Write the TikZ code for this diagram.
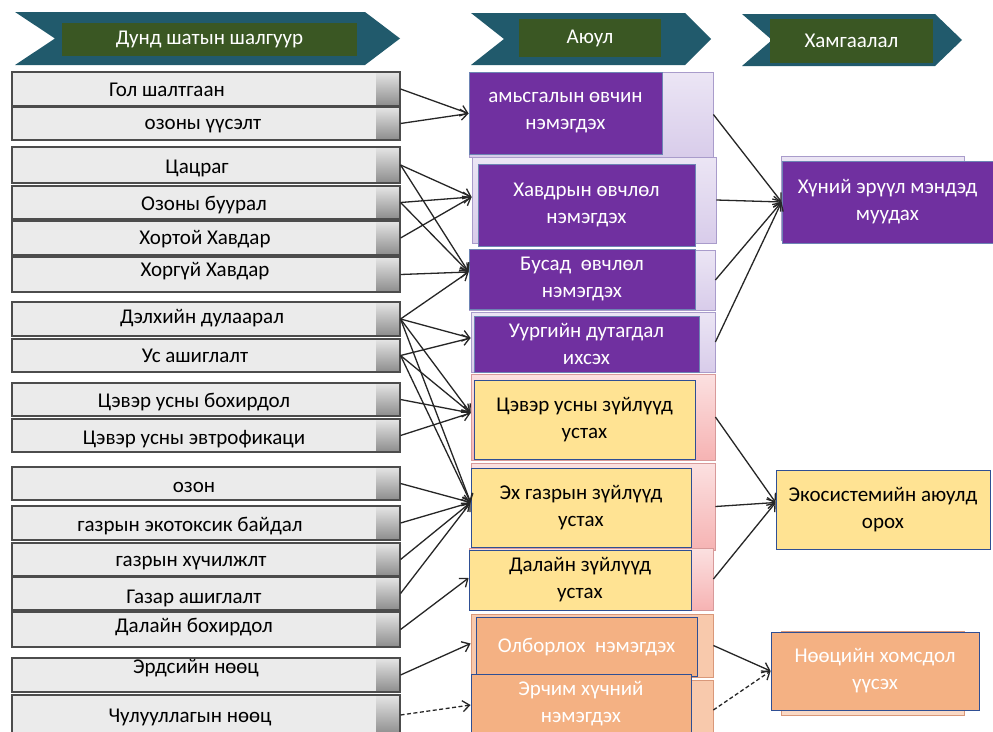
\documentclass[tikz,border=0pt]{standalone}
\usepackage{fontspec}
\setmainfont{Carlito}
\usetikzlibrary{arrows.meta,calc}
\definecolor{hteal}{HTML}{215A6C}
\definecolor{hgreen}{HTML}{3A5723}
\definecolor{purp}{HTML}{7030A0}
\definecolor{lav}{HTML}{D8CCEA}
\definecolor{lavd}{HTML}{A99CCB}
\definecolor{ylw}{HTML}{FFE393}
\definecolor{pnk}{HTML}{F6B3B3}
\definecolor{pnkd}{HTML}{D89A9A}
\definecolor{org}{HTML}{F4B183}
\definecolor{orgl}{HTML}{F8C9AC}
\definecolor{orgd}{HTML}{D9987A}
\definecolor{bdr}{HTML}{2F4F94}
\tikzset{
  txt/.style={font=\fontsize{21}{27}\selectfont, inner sep=0pt, align=center},
  hdrtxt/.style={txt, text=white},
  lbox/.style={draw=black!70, line width=1.1pt, fill=black!8, minimum width=388pt, inner sep=0pt,
    path picture={\shade[top color=black!10, bottom color=black!45]
      ([xshift=-24pt]path picture bounding box.north east) rectangle (path picture bounding box.south east);}},
  pouter/.style={draw=lavd, line width=0.8pt, top color=lav!50, bottom color=lav, inner sep=0pt},
  youter/.style={draw=pnkd, line width=0.8pt, top color=pnk!40, bottom color=pnk, inner sep=0pt},
  oouter/.style={draw=orgd, line width=0.8pt, fill=orgl, inner sep=0pt},
  pinner/.style={txt, fill=purp, draw=bdr!70, line width=0.8pt, text=white},
  yinner/.style={txt, fill=ylw, draw=bdr, line width=0.8pt, text=black},
  oinner/.style={txt, fill=org, draw=bdr, line width=0.8pt, text=white},
  arr/.style={draw=black!85, line width=1.3pt, -{Straight Barb[length=7pt,width=11pt,line width=1.3pt]}},
  darr/.style={arr, dashed, dash pattern=on 4pt off 2.5pt}
}
\begin{document}
\begin{tikzpicture}[x=1pt,y=-1pt]
\useasboundingbox (0,0) rectangle (993,731);
\clip (0,0) rectangle (993,731);
\fill[white] (0,0) rectangle (993,731);

% headers
\fill[hteal] (15,12) -- (365,12) -- (400,38.5) -- (365,65) -- (15,65) -- (55,38.5) -- cycle;
\node[fill=hgreen, minimum width=295pt, minimum height=33pt, inner sep=0pt] (h1) at (209.5,39.5) {};
\node[hdrtxt] (h1t) at (h1) {Дунд шатын шалгуур};
\fill[hteal] (471,13) -- (685,13) -- (711,39) -- (685,65) -- (471,65) -- (504,39) -- cycle;
\node[fill=hgreen, minimum width=142pt, minimum height=38pt, inner sep=0pt] (h2) at (590,38) {};
\node[hdrtxt] (h2t) at (h2) {Аюул};
\fill[hteal] (742,14) -- (935,14) -- (962,40) -- (935,66) -- (742,66) -- (772,40) -- cycle;
\node[fill=hgreen, minimum width=163pt, minimum height=44pt, inner sep=0pt] (h3) at (851.5,41) {};
\node[hdrtxt] (h3t) at (h3) {Хамгаалал};

% left boxes
\node[lbox, minimum height=34pt] (l1) at (206,89) {};
\node[lbox, minimum height=33pt] (l2) at (206,123.5) {};
\node[lbox, minimum height=36pt] (l3) at (206,165) {};
\node[lbox, minimum height=33pt] (l4) at (206,202.5) {};
\node[lbox, minimum height=34pt] (l5) at (206,238) {};
\node[lbox, minimum height=35pt] (l6) at (206,274.5) {};
\node[lbox, minimum height=34pt] (l7) at (206,319) {};
\node[lbox, minimum height=33pt] (l8) at (206,355.5) {};
\node[lbox, minimum height=33pt] (l9) at (206,399.5) {};
\node[lbox, minimum height=33pt] (l10) at (206,435.5) {};
\node[lbox, minimum height=33pt] (l11) at (206,483.5) {};
\node[lbox, minimum height=34pt] (l12) at (206,523) {};
\node[lbox, minimum height=33pt] (l13) at (206,559.5) {};
\node[lbox, minimum height=33pt] (l14) at (206,593.5) {};
\node[lbox, minimum height=35pt] (l15) at (206,629.5) {};
\node[lbox, minimum height=34pt] (l16) at (206,675) {};
\node[lbox, minimum height=40pt] (l17) at (206,715) {};

\node[txt] (l1t) at (167,90) {Гол шалтгаан};
\node[txt] (l2t) at (203,126) {озоны үүсэлт};
\node[txt] (l3t) at (197,168) {Цацраг};
\node[txt] (l4t) at (204,205) {Озоны буурал};
\node[txt] (l5t) at (205,239) {Хортой Хавдар};
\node[txt] (l6t) at (205,271) {Хоргүй Хавдар};
\node[txt] (l7t) at (202,318) {Дэлхийн дулаарал};
\node[txt] (l8t) at (195,356) {Ус ашиглалт};
\node[txt] (l9t) at (194,402) {Цэвэр усны бохирдол};
\node[txt] (l10t) at (194,439) {Цэвэр усны эвтрофикаци};
\node[txt] (l11t) at (194,487) {озон};
\node[txt] (l12t) at (190,526) {газрын экотоксик байдал};
\node[txt] (l13t) at (191,563) {газрын хүчилжлт};
\node[txt] (l14t) at (194,598) {Газар ашиглалт};
\node[txt] (l15t) at (194,627) {Далайн бохирдол};
\node[txt] (l16t) at (196,668) {Эрдсийн нөөц};
\node[txt] (l17t) at (190,717) {Чулууллагын нөөц};

% middle column outer boxes
\node[pouter, minimum width=244pt, minimum height=85pt] (m1o) at (591,114.5) {};
\node[pouter, minimum width=244pt, minimum height=86pt] (m2o) at (594,200) {};
\node[pouter, minimum width=246pt, minimum height=60pt] (m3o) at (592,280) {};
\node[pouter, minimum width=244pt, minimum height=60pt] (m4o) at (593,342) {};
\node[youter, minimum width=244pt, minimum height=86pt] (m5o) at (593,417) {};
\node[youter, minimum width=244pt, minimum height=87pt] (m6o) at (593,506.5) {};
\node[youter, minimum width=244pt, minimum height=62pt] (m7o) at (591,579) {};
\node[oouter, minimum width=242pt, minimum height=63pt] (m8o) at (592,645.5) {};
\node[oouter, minimum width=242pt, minimum height=60pt] (m9o) at (592,710) {};

% middle column inner boxes
\node[pinner, minimum width=193pt, minimum height=82pt] (m1) at (565.5,113) {амьсгалын өвчин\\нэмэгдэх};
\node[pinner, minimum width=217pt, minimum height=82pt] (m2) at (586.5,205) {Хавдрын өвчлөл\\нэмэгдэх};
\node[pinner, minimum width=226pt, minimum height=60pt] (m3) at (582,279) {Бусад\ \ өвчлөл\\нэмэгдэх};
\node[pinner, minimum width=225pt, minimum height=56pt] (m4) at (586.5,344) {Уургийн дутагдал\\ихсэх};
\node[yinner, minimum width=221pt, minimum height=79pt] (m5) at (584.5,419.5) {Цэвэр усны зүйлүүд\\устах};
\node[yinner, minimum width=220pt, minimum height=79pt] (m6) at (581,507.5) {Эх газрын зүйлүүд\\устах};
\node[yinner, minimum width=222pt, minimum height=60pt] (m7) at (580,580) {Далайн зүйлүүд\\устах};
\node[oinner, minimum width=221pt, minimum height=59pt] (m8) at (586.5,647) {Олборлох\ \ нэмэгдэх};
\node[oinner, minimum width=220pt, minimum height=60pt] (m9) at (581,704) {Эрчим хүчний\\нэмэгдэх};

% right column
\node[pouter, minimum width=183pt, minimum height=84pt] (r1o) at (872.5,198) {};
\node[pinner, minimum width=211pt, minimum height=82pt] (r1) at (887.5,202) {Хүний эрүүл мэндэд\\муудах};
\node[yinner, minimum width=214pt, minimum height=79pt] (r2) at (883,509.5) {Экосистемийн аюулд\\орох};
\node[oouter, fill=orgl!70, minimum width=183pt, minimum height=84pt] (r3o) at (872.5,673) {};
\node[oinner, minimum width=208pt, minimum height=78pt] (r3) at (875,671) {Нөөцийн хомсдол\\үүсэх};

% arrow tips
\coordinate (t1) at ($(m1o.west)+(0,-1)$);
\coordinate (t2) at ($(m2o.west)+(0,-3)$);
\coordinate (t3) at ($(m3o.west)+(0,-8)$);
\coordinate (t4) at ($(m4o.west)+(0,-4)$);
\coordinate (t5) at ($(m5o.west)+(0,-4)$);
\coordinate (t6) at ($(m6o.west)+(0,-4)$);
\coordinate (t7) at ($(m7o.west)+(0,-1)$);
\coordinate (t8) at ($(m8o.west)+(0,-2)$);
\coordinate (t9) at ($(m9o.west)+(0,-5)$);
\coordinate (tr2) at ($(r2.west)+(0,-7)$);

% left to middle connectors
\draw[arr] (l1.east) -- (t1);
\draw[arr] (l2.east) -- (t1);
\draw[arr] (l3.east) -- (t2);
\draw[arr] (l3.east) -- (t3);
\draw[arr] (l4.east) -- (t2);
\draw[arr] (l4.east) -- (t3);
\draw[arr] (l5.east) -- (t2);
\draw[arr] (l6.east) -- (t3);
\draw[arr] (l7.east) -- (t3);
\draw[arr] (l7.east) -- (t4);
\draw[arr] (l7.east) -- (t5);
\draw[arr] (l7.east) -- (t6);
\draw[arr] (l8.east) -- (t4);
\draw[arr] (l8.east) -- (t5);
\draw[arr] (l8.east) -- (t6);
\draw[arr] (l9.east) -- (t5);
\draw[arr] (l10.east) -- (t5);
\draw[arr] (l11.east) -- (t6);
\draw[arr] (l12.east) -- (t6);
\draw[arr] (l13.east) -- (t6);
\draw[arr] (l14.east) -- (t6);
\draw[arr] (l15.east) -- (t7);
\draw[arr] (l16.east) -- (t8);
\draw[darr] (l17.east) -- (t9);

% middle to right connectors
\draw[arr] (m1o.east) -- (r1.west);
\draw[arr] (m2o.east) -- (r1.west);
\draw[arr] (m3o.east) -- (r1.west);
\draw[arr] (m4o.east) -- (r1.west);
\draw[arr] (m5o.east) -- (tr2);
\draw[arr] (m6o.east) -- (tr2);
\draw[arr] (m7o.east) -- (tr2);
\draw[arr] (m8o.east) -- (r3.west);
\draw[darr] (m9o.east) -- (r3.west);
\end{tikzpicture}
\end{document}
